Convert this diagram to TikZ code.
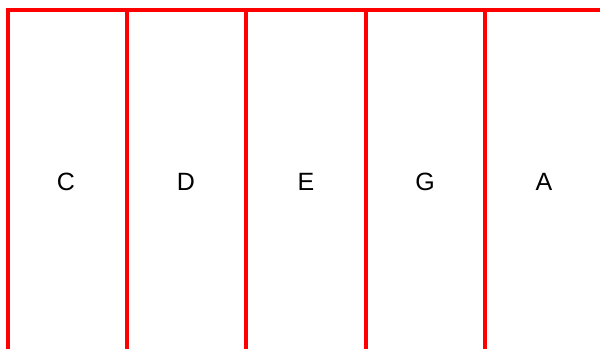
\documentclass[tikz,border=0pt]{standalone}
\usepackage{fontspec}
\setmainfont{Liberation Sans}
\begin{document}
\begin{tikzpicture}[x=1pt,y=-1pt,
  redline/.style={draw=red,line width=4pt},
  lbl/.style={font=\fontsize{25}{25}\selectfont,text=black,inner sep=0pt,anchor=base}]
\useasboundingbox (0,0) rectangle (600,349);
\coordinate (t0) at (6,10);
\coordinate (t1) at (600,10);
\draw[redline] (t0) -- (t1);
\foreach \x/\n in {8/v1,127/v2,246/v3,366/v4,485/v5}{
  \coordinate (\n top) at (\x,8);
  \coordinate (\n bot) at (\x,349);
  \draw[redline] (\n top) -- (\n bot);
}
\node[lbl] (c) at (66,190) {C};
\node[lbl] (d) at (186,190) {D};
\node[lbl] (e) at (306,190) {E};
\node[lbl] (g) at (425,190) {G};
\node[lbl] (a) at (544,190) {A};
\end{tikzpicture}
\end{document}
